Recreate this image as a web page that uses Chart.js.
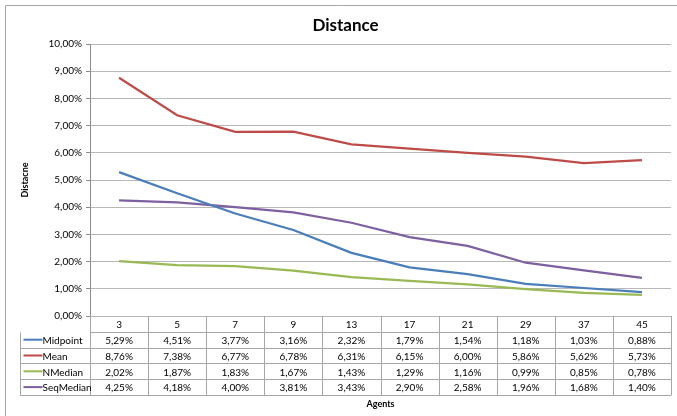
<!DOCTYPE html>
<html>
<head>
<meta charset="utf-8">
<script src="https://cdn.jsdelivr.net/npm/chart.js@4/dist/chart.umd.min.js"></script>
<style>
  html, body { margin: 0; padding: 0; background: #fff; }
  #wrap { width: 677px; height: 416px; }
</style>
</head>
<body>
<div id="wrap"><canvas id="c" width="677" height="416"></canvas></div>
<script>
// Number of agents per run (category axis)
const agents = ['3', '5', '7', '9', '13', '17', '21', '29', '37', '45'];

// Mean distance per aggregation method, in percent
const midpoint  = [5.29, 4.51, 3.77, 3.16, 2.32, 1.79, 1.54, 1.18, 1.03, 0.88];
const mean      = [8.76, 7.38, 6.77, 6.78, 6.31, 6.15, 6.00, 5.86, 5.62, 5.73];
const nMedian   = [2.02, 1.87, 1.83, 1.67, 1.43, 1.29, 1.16, 0.99, 0.85, 0.78];
const seqMedian = [4.25, 4.18, 4.00, 3.81, 3.43, 2.90, 2.58, 1.96, 1.68, 1.40];

const seriesNames  = ['Midpoint', 'Mean', 'NMedian', 'SeqMedian'];
const seriesValues = [midpoint, mean, nMedian, seqMedian];
const seriesColors = ['#4a7ebb', '#be4b48', '#98b954', '#7d60a0'];

const FONT = 'Lato, "Open Sans", sans-serif';
const fmt = v => v.toFixed(2).replace('.', ',') + '%';

// Frame round the chart and a data table under the plot
const tablePlugin = {
  id: 'dataTable',
  beforeDraw(chart) {
    const ctx = chart.ctx;
    ctx.save();
    ctx.strokeStyle = '#a6a6a6';
    ctx.lineWidth = 1;
    ctx.beginPath();
    ctx.moveTo(5.5, chart.height + 2);
    ctx.lineTo(5.5, 5.5);
    ctx.lineTo(chart.width + 2, 5.5);
    ctx.stroke();
    ctx.restore();
  },
  afterDraw(chart) {
    const ctx = chart.ctx;
    const x = chart.scales.x;
    const area = chart.chartArea;
    const top = area.bottom;
    const rowH = 15.8;
    const legendLeft = 20.5;
    const n = agents.length;
    const step = (area.right - area.left) / n;
    const nRows = seriesNames.length;

    ctx.save();
    ctx.strokeStyle = '#a6a6a6';
    ctx.lineWidth = 1;
    ctx.beginPath();
    // horizontal rules
    for (let r = 1; r <= nRows + 1; r++) {
      const y = Math.round(top + r * rowH) + 0.5;
      ctx.moveTo(r === 1 ? area.left : legendLeft, y);
      ctx.lineTo(area.right, y);
    }
    // vertical rules between categories
    for (let i = 0; i <= n; i++) {
      const xx = Math.round(area.left + i * step) + 0.5;
      ctx.moveTo(xx, top);
      ctx.lineTo(xx, Math.round(top + (nRows + 1) * rowH) + 0.5);
    }
    // left edge of the legend column
    ctx.moveTo(legendLeft, Math.round(top + rowH) + 0.5);
    ctx.lineTo(legendLeft, Math.round(top + (nRows + 1) * rowH) + 0.5);
    ctx.stroke();

    ctx.fillStyle = '#000';
    ctx.font = '10px ' + FONT;
    ctx.textAlign = 'center';
    ctx.textBaseline = 'middle';
    // header row: category labels
    agents.forEach((a, i) => {
      ctx.fillText(a, x.getPixelForValue(i), top + rowH / 2 + 1);
    });
    // value rows
    seriesValues.forEach((vals, r) => {
      const cy = top + (r + 1) * rowH + rowH / 2 + 1;
      vals.forEach((v, i) => {
        ctx.fillText(fmt(v), x.getPixelForValue(i), cy);
      });
      // legend key
      ctx.strokeStyle = seriesColors[r];
      ctx.lineWidth = 2;
      ctx.beginPath();
      ctx.moveTo(legendLeft + 3, cy - 1);
      ctx.lineTo(legendLeft + 22, cy - 1);
      ctx.stroke();
      ctx.textAlign = 'left';
      ctx.fillText(seriesNames[r], legendLeft + 22, cy);
      ctx.textAlign = 'center';
    });
    ctx.restore();
  }
};

new Chart(document.getElementById('c'), {
  type: 'line',
  data: {
    labels: agents,
    datasets: seriesNames.map((name, i) => ({
      label: name,
      data: seriesValues[i],
      borderColor: seriesColors[i],
      backgroundColor: seriesColors[i],
      borderWidth: 2.2,
      pointRadius: 0,
      tension: 0,
      fill: false
    }))
  },
  options: {
    responsive: false,
    animation: false,
    layout: { padding: { left: 20, right: 6, top: 0, bottom: 0 } },
    plugins: {
      legend: { display: false },
      tooltip: { enabled: false },
      title: {
        display: true,
        text: 'Distance',
        color: '#000',
        font: { family: FONT, size: 17, weight: 'bold', lineHeight: 1.2 },
        padding: { top: 15, bottom: 8.6 }
      }
    },
    scales: {
      x: {
        type: 'category',
        offset: true,
        grid: { display: false },
        border: { display: false },
        ticks: { display: false },
        title: {
          display: true,
          text: 'Agents',
          color: '#000',
          font: { family: FONT, size: 9, weight: 'bold', lineHeight: 1.2 },
          padding: { top: 0, bottom: 7 }
        },
        afterFit(s) { s.height = 100; }
      },
      y: {
        min: 0,
        max: 10,
        ticks: {
          stepSize: 1,
          color: '#000',
          font: { family: FONT, size: 10 },
          padding: 4,
          callback: v => fmt(v)
        },
        grid: { color: '#b8b8b8', lineWidth: 1, tickLength: 4, tickColor: '#8c8c8c' },
        border: { display: true, color: '#8c8c8c' },
        title: {
          display: true,
          text: 'Distacne',
          color: '#000',
          font: { family: FONT, size: 9, weight: 'bold', lineHeight: 1.2 },
          padding: { top: 0, bottom: 0 }
        },
        afterFit(s) { s.width = 70; }
      }
    }
  },
  plugins: [tablePlugin]
});
</script>
</body>
</html>
